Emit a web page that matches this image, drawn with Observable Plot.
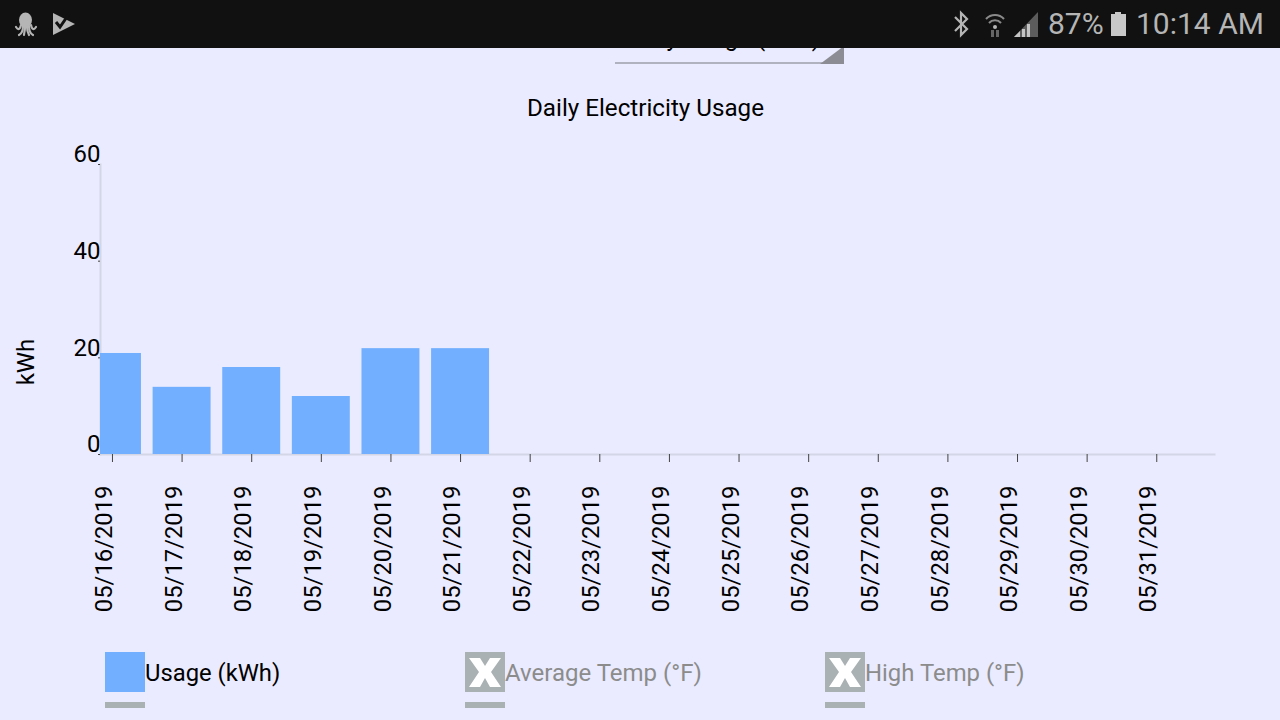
<!DOCTYPE html>
<html><head><meta charset="utf-8">
<script src="https://cdn.jsdelivr.net/npm/d3@7"></script>
<script src="https://cdn.jsdelivr.net/npm/@observablehq/plot@0.6"></script>
<style>
html,body{margin:0;padding:0;width:1280px;height:720px;overflow:hidden;background:#eaebfe;font-family:Roboto,sans-serif;}
.abs{position:absolute;white-space:nowrap;}
#status{left:0;top:0;width:1280px;height:48px;background:#111;z-index:5;}
#status span{position:absolute;color:#b5b5b5;font-size:30px;line-height:48px;top:0;}
#status svg{position:absolute;}
#select{left:615px;top:16px;width:229px;height:48px;border-bottom:2px solid #b0b2c0;box-sizing:border-box;}
#selectText{left:626px;top:23px;font-size:24px;color:#000;line-height:30px;}
#corner{left:820px;top:46px;}
#title{left:0;width:1291px;top:94px;text-align:center;font-size:24.2px;line-height:28px;color:#000;}
#ylab{left:26px;top:362px;font-size:24px;color:#000;transform:translate(-50%,-50%) rotate(-90deg);}
#chart{left:0;top:48px;}
.sw{width:40px;height:40px;top:652px;}
.ul{width:40px;height:6px;top:702px;background:#aab1b3;}
.lt{top:658px;font-size:24px;line-height:30px;}
</style></head><body>
<div class="abs" id="select"></div>
<div class="abs" id="selectText">Daily Usage (kWh)</div>
<svg class="abs" id="corner" width="24" height="18"><path d="M0 18L24 0V18Z" fill="#8c8c94"/></svg>
<div class="abs" id="status">
<svg width="80" height="48" style="left:12px;top:0">
<ellipse cx="13.5" cy="20" rx="6.5" ry="7.5" fill="#b5b5b5"/>
<g fill="none" stroke="#b5b5b5" stroke-width="2.2" stroke-linecap="round">
<path d="M9 25C8 30 6 30 4 27"/><path d="M11 26C11 31 9 34 7 35"/><path d="M13 27C13 31 12 33 12 35"/>
<path d="M15 27C15 31 16 33 17 35"/><path d="M17 26C17 31 19 34 21 35"/><path d="M19 25C20 30 22 30 24 27"/></g>
<path d="M41 13L63 24L41 35Z" fill="#b5b5b5"/><path d="M44 22L48 27L57 14" stroke="#111" stroke-width="3" fill="none"/></svg>
<svg width="100" height="48" style="left:950px;top:0">
<path d="M5 17L17 29L11 35V13L17 19L5 31" stroke="#b5b5b5" stroke-width="2.2" fill="none"/>
<g fill="none" stroke="#8a8a8a" stroke-width="2"><path d="M36 19A12 12 0 0 1 54 19"/><path d="M39 23A8 8 0 0 1 51 23"/></g><circle cx="45" cy="27" r="2" fill="#b5b5b5"/>
<path d="M41 30h3v7h-3zM46 30h3v7h-3z" fill="#666"/>
<path d="M64 37L88 12V37Z" fill="#5c5c5c"/><path d="M64 37L70 31V37ZM72 29h3v8h-3zM77 24h3v13h-3z" fill="#c4c4c4"/></svg>
<span style="left:1048px">87%</span>
<svg width="18" height="26" style="left:1110px;top:12px"><path d="M5 0h6v2h5v22H1V2h4Z" fill="#c8c8c8"/></svg>
<span style="left:1136px">10:14 AM</span>
</div>
<div class="abs" id="title">Daily Electricity Usage</div>
<div class="abs" id="ylab">kWh</div>
<div class="abs" id="chart"></div>

<div class="abs sw" style="left:105px;background:#72b0ff"></div>
<div class="abs ul" style="left:105px"></div>
<div class="abs lt" style="left:145px;color:#000;font-size:23.8px">Usage (kWh)</div>
<svg class="abs sw" style="left:465px" width="40" height="40"><rect width="40" height="40" fill="#aab1b3"/><path d="M4 6H15L20 14L25 6H36L26 20L36 35H25L20 26L15 35H4L14 20Z" fill="#fff"/></svg>
<div class="abs ul" style="left:465px"></div>
<div class="abs lt" style="left:505px;color:#8c8c8c">Average Temp (°F)</div>
<svg class="abs sw" style="left:825px" width="40" height="40"><rect width="40" height="40" fill="#aab1b3"/><path d="M4 6H15L20 14L25 6H36L26 20L36 35H25L20 26L15 35H4L14 20Z" fill="#fff"/></svg>
<div class="abs ul" style="left:825px"></div>
<div class="abs lt" style="left:865px;color:#8c8c8c;font-size:23.9px">High Temp (°F)</div>

<script>
const dates = ["05/16/2019","05/17/2019","05/18/2019","05/19/2019","05/20/2019","05/21/2019","05/22/2019","05/23/2019","05/24/2019","05/25/2019","05/26/2019","05/27/2019","05/28/2019","05/29/2019","05/30/2019","05/31/2019"];
const usage = [20.9,13.9,18,12,21.9,21.9,null,null,null,null,null,null,null,null,null,null];
const yTicks = [0,20,40,60];
const rows = dates.map((d,i)=>({d,u:usage[i]})).filter(r=>r.u!=null);
const plot = Plot.plot({
  width:1280,height:590,marginLeft:100,marginRight:66,marginTop:116,marginBottom:184,
  style:{background:"transparent",fontFamily:"Roboto,sans-serif",fontSize:"24px",color:"#000",overflow:"visible"},
  x:{type:"band",domain:dates,range:[71.33,1196.9],padding:0.1675,round:false,label:null},
  y:{domain:[0,60],range:[406,116],label:null},
  marks:[
    Plot.frame({anchor:"left",stroke:"#d3d6e6",strokeWidth:2,strokeOpacity:1}),
    Plot.frame({anchor:"bottom",stroke:"#d3d6e6",strokeWidth:2,strokeOpacity:1}),
    Plot.barY(rows,{x:"d",y:"u",fill:"#72b0ff",clip:"frame"}),
    Plot.axisY({ticks:yTicks,tickSize:2,text:null,label:null,stroke:"#444"}),
    Plot.axisY({ticks:yTicks,tickSize:0,tickPadding:0,dy:-10,fontSize:24,label:null,fill:"#000"}),
    Plot.axisX({tickSize:8,text:null,label:null,stroke:"#444"}),
    Plot.axisX({tickSize:0,tickRotate:-90,tickPadding:31,dx:-8,fontSize:23.8,label:null,fill:"#000"})
  ]
});
document.getElementById("chart").appendChild(plot);
</script>
</body></html>
